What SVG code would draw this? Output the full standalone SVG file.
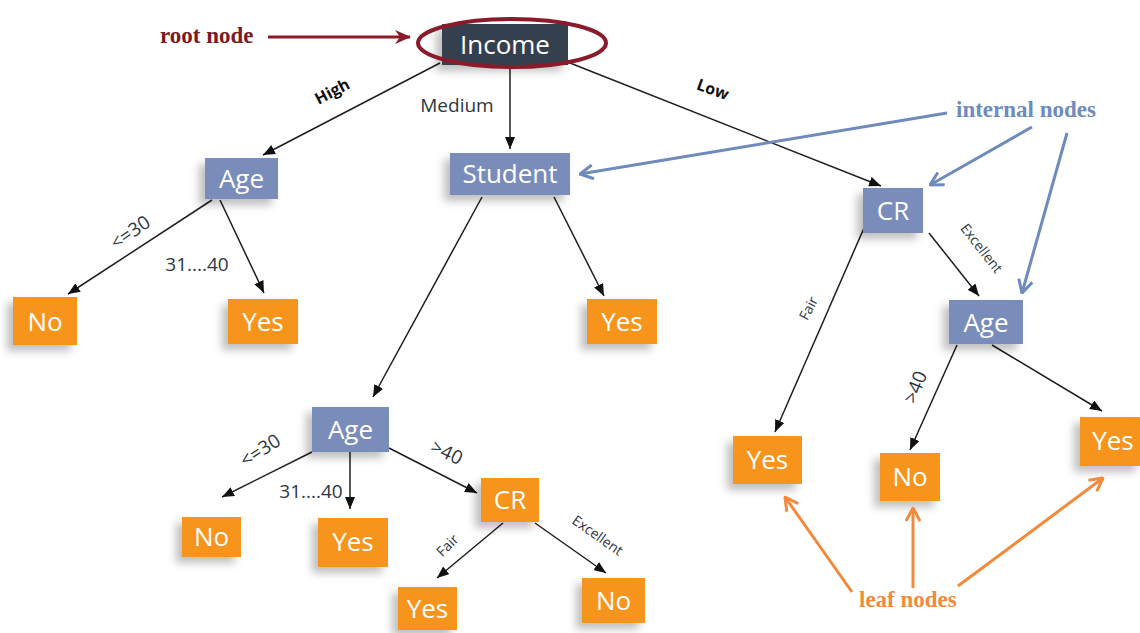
<svg xmlns="http://www.w3.org/2000/svg" width="1140" height="633" viewBox="0 0 1140 633">
<style>
.node text{font-family:"Open Sans","Liberation Sans",sans-serif;font-size:26px;fill:#fff;text-anchor:middle;dominant-baseline:central}
.leaf rect{fill:#f7941d}
.inner rect{fill:#7a8dba}
.root rect{fill:#353f4f}
.node rect{filter:url(#sh)}
.conn line{stroke:#1e1e1e;stroke-width:1.5;marker-end:url(#ah)}
.lbl{font-family:"Open Sans","Liberation Sans",sans-serif;font-size:19px;fill:#2e3642;text-anchor:middle;dominant-baseline:central}
.sm{font-size:14px}
.bd{font-weight:bold;font-size:16px;fill:#111}
.ann{font-family:"Liberation Serif",serif;font-weight:bold;font-size:23px}
.blue{stroke:#6f8bbd;stroke-width:3;fill:none;marker-end:url(#ab)}
.orng{stroke:#f08a3c;stroke-width:3;fill:none;marker-end:url(#ao)}
</style>
<defs>
<filter id="sh" x="-50%" y="-50%" width="200%" height="200%">
<feDropShadow dx="-6" dy="6" stdDeviation="4" flood-color="#000" flood-opacity="0.25"/>
</filter>
<marker id="ah" viewBox="0 0 12 10" refX="12" refY="5" markerWidth="12" markerHeight="10" markerUnits="userSpaceOnUse" orient="auto">
<path d="M0,0 L12,5 L0,10 z" fill="#111"/>
</marker>
<marker id="ab" viewBox="0 0 16 16" refX="15" refY="8" markerWidth="16" markerHeight="16" markerUnits="userSpaceOnUse" orient="auto">
<path d="M2,1 L15,8 L2,15" fill="none" stroke="#6f8bbd" stroke-width="3"/>
</marker>
<marker id="ao" viewBox="0 0 16 16" refX="15" refY="8" markerWidth="16" markerHeight="16" markerUnits="userSpaceOnUse" orient="auto">
<path d="M2,1 L15,8 L2,15" fill="none" stroke="#f08a3c" stroke-width="3"/>
</marker>
<marker id="ar" viewBox="0 0 16 14" refX="15" refY="7" markerWidth="16" markerHeight="14" markerUnits="userSpaceOnUse" orient="auto">
<path d="M0,0 L16,7 L0,14 L5,7 z" fill="#8b1a2b"/>
</marker>
</defs>
<rect width="1140" height="633" fill="#fff"/>

<g id="connectors" class="conn">
<line x1="440" y1="63" x2="263" y2="155"/>
<line x1="510" y1="65" x2="510" y2="149"/>
<line x1="570" y1="63" x2="881" y2="186"/>
<line x1="212" y1="200" x2="68" y2="294"/>
<line x1="220" y1="200" x2="264" y2="293"/>
<line x1="482" y1="197" x2="373" y2="397"/>
<line x1="554" y1="197" x2="604" y2="296"/>
<line x1="929" y1="233" x2="979" y2="296"/>
<line x1="864" y1="228" x2="775" y2="432"/>
<line x1="957" y1="345" x2="910" y2="450"/>
<line x1="992" y1="345" x2="1102" y2="411"/>
<line x1="312" y1="452" x2="222" y2="497"/>
<line x1="350" y1="452" x2="350" y2="509"/>
<line x1="389" y1="448" x2="477" y2="493"/>
<line x1="503" y1="523" x2="437" y2="578"/>
<line x1="535" y1="523" x2="606" y2="573"/>
</g>

<g id="edge-labels">
<text class="lbl bd" transform="translate(332,91) rotate(-28)">High</text>
<text class="lbl" x="457" y="105">Medium</text>
<text class="lbl bd" transform="translate(713,89) rotate(20)">Low</text>
<text class="lbl" transform="translate(130,232) rotate(-35)">&lt;=30</text>
<text class="lbl" x="197" y="264">31....40</text>
<text class="lbl sm" transform="translate(808,308) rotate(-62)">Fair</text>
<text class="lbl sm" transform="translate(982,248) rotate(52)">Excellent</text>
<text class="lbl" transform="translate(915,387) rotate(-68)">&gt;40</text>
<text class="lbl" transform="translate(260,450) rotate(-33)">&lt;=30</text>
<text class="lbl" x="311" y="491">31....40</text>
<text class="lbl" transform="translate(447,452) rotate(25)">&gt;40</text>
<text class="lbl sm" transform="translate(447,545) rotate(-45)">Fair</text>
<text class="lbl sm" transform="translate(598,535) rotate(35)">Excellent</text>
</g>

<g id="n-income" class="node root"><rect x="442" y="24" width="126" height="41"/><text x="505" y="44">Income</text></g>
<g id="n-age1" class="node inner"><rect x="205" y="158" width="73" height="41"/><text x="241.5" y="178">Age</text></g>
<g id="n-student" class="node inner"><rect x="450" y="153" width="120" height="42"/><text x="510" y="173">Student</text></g>
<g id="n-cr1" class="node inner"><rect x="863" y="188" width="60" height="45"/><text x="893" y="210">CR</text></g>
<g id="n-age3" class="node inner"><rect x="949" y="300" width="74" height="44"/><text x="986" y="322">Age</text></g>
<g id="n-age2" class="node inner"><rect x="312" y="407" width="77" height="45"/><text x="350.5" y="429">Age</text></g>
<g id="n-cr2" class="node leaf"><rect x="481" y="478" width="58" height="44"/><text x="510" y="499">CR</text></g>
<g id="n-no1" class="node leaf"><rect x="13" y="297" width="64" height="48"/><text x="45" y="321">No</text></g>
<g id="n-yes1" class="node leaf"><rect x="228" y="299" width="70" height="45"/><text x="263" y="321">Yes</text></g>
<g id="n-yes2" class="node leaf"><rect x="587" y="299" width="70" height="45"/><text x="622" y="321">Yes</text></g>
<g id="n-no2" class="node leaf"><rect x="182" y="517" width="59" height="40"/><text x="211.5" y="536">No</text></g>
<g id="n-yes3" class="node leaf"><rect x="318" y="518" width="70" height="49"/><text x="353" y="541">Yes</text></g>
<g id="n-yes4" class="node leaf"><rect x="398" y="587" width="59" height="43"/><text x="427.5" y="608">Yes</text></g>
<g id="n-no3" class="node leaf"><rect x="582" y="578" width="63" height="45"/><text x="613.5" y="600">No</text></g>
<g id="n-yes5" class="node leaf"><rect x="733" y="436" width="69" height="48"/><text x="767.5" y="459">Yes</text></g>
<g id="n-no4" class="node leaf"><rect x="880" y="453" width="60" height="48"/><text x="910" y="476">No</text></g>
<g id="n-yes6" class="node leaf"><rect x="1080" y="417" width="62" height="49"/><text x="1113" y="440">Yes</text></g>

<g id="annotations">
<ellipse cx="512" cy="43" rx="94" ry="24" fill="none" stroke="#8b1a2b" stroke-width="4"/>
<text class="ann" x="160" y="43" fill="#7b1a24">root node</text>
<line x1="268" y1="37" x2="410" y2="37" stroke="#8b1a2b" stroke-width="3" marker-end="url(#ar)"/>
<text class="ann" x="956" y="117" fill="#6f8bbd">internal nodes</text>
<line class="blue" x1="947" y1="113" x2="580" y2="174"/>
<line class="blue" x1="1032" y1="127" x2="930" y2="185"/>
<line class="blue" x1="1067" y1="133" x2="1022" y2="293"/>
<text class="ann" x="859" y="607" fill="#f08a3c">leaf nodes</text>
<line class="orng" x1="852" y1="592" x2="785" y2="497"/>
<line class="orng" x1="913" y1="588" x2="913" y2="508"/>
<line class="orng" x1="958" y1="586" x2="1103" y2="478"/>
</g>
</svg>
